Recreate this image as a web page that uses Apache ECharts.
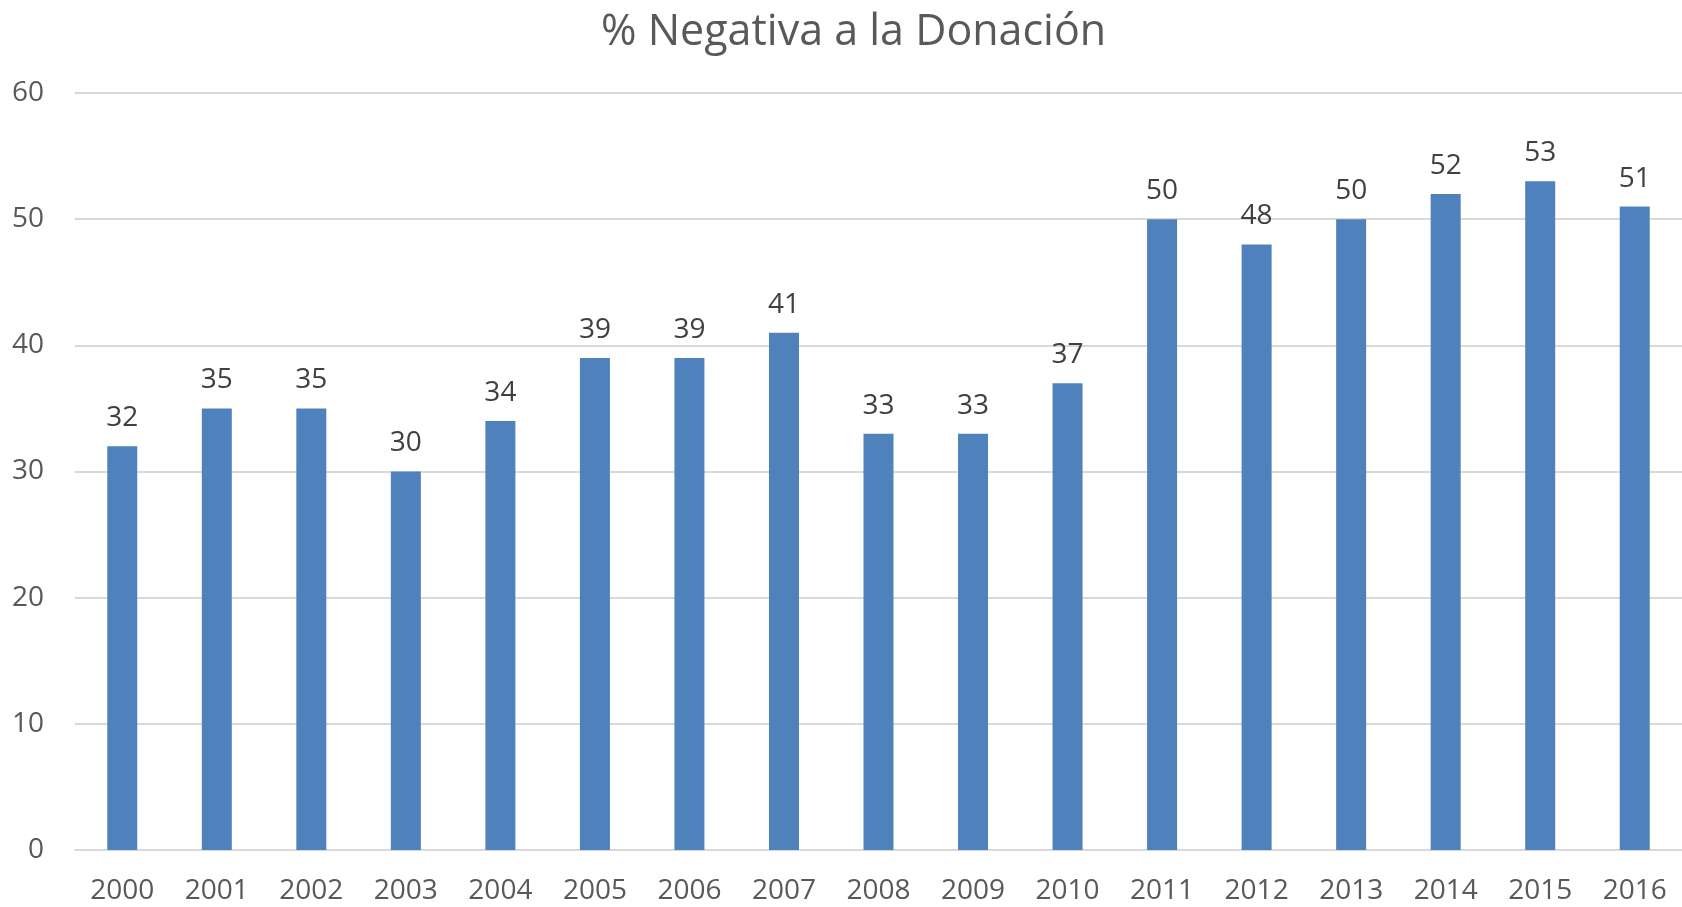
<!DOCTYPE html>
<html>
<head>
<meta charset="utf-8">
<script src="https://cdn.jsdelivr.net/npm/echarts@6/dist/echarts.min.js"></script>
<style>
html,body{margin:0;padding:0;background:#fff;}
#chart{width:1682px;height:907px;}
</style>
</head>
<body>
<div id="chart"></div>
<script>
const categories = ['2000','2001','2002','2003','2004','2005','2006','2007','2008','2009','2010','2011','2012','2013','2014','2015','2016'];
const values = [32,35,35,30,34,39,39,41,33,33,37,50,48,50,52,53,51];
const titleText = '% Negativa a la Donación';

const chart = echarts.init(document.getElementById('chart'));
const font = '"Open Sans", "Noto Sans", sans-serif';
chart.setOption({
  animation: false,
  backgroundColor: '#ffffff',
  title: {
    text: titleText,
    left: 596,
    top: 6,
    textStyle: { fontFamily: font, fontSize: 43, fontWeight: 'normal', color: '#595959' }
  },
  grid: { left: 75, right: 0, top: 93, bottom: 57, containLabel: false },
  xAxis: {
    type: 'category',
    data: categories,
    axisLine: { show: true, lineStyle: { color: '#D9D9D9', width: 2 } },
    axisTick: { show: false },
    axisLabel: { fontFamily: font, fontSize: 28, color: '#595959', margin: 27 }
  },
  yAxis: {
    type: 'value',
    min: 0, max: 60, interval: 10,
    axisLine: { show: false },
    axisTick: { show: false },
    splitLine: { lineStyle: { color: '#D9D9D9', width: 2 } },
    axisLabel: { fontFamily: font, fontSize: 28, color: '#595959', margin: 31 }
  },
  series: [{
    type: 'bar',
    data: values,
    barWidth: 30,
    itemStyle: { color: '#4F81BD' },
    label: {
      show: true, position: 'top', distance: 14,
      fontFamily: font, fontSize: 28, color: '#404040'
    }
  }]
});
</script>
</body>
</html>
